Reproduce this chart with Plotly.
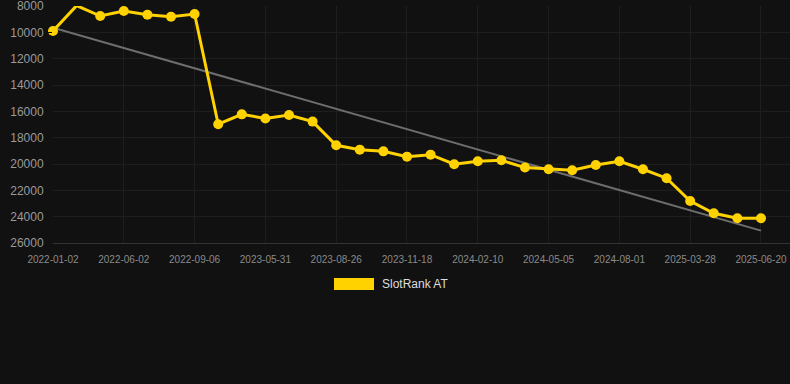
import plotly.graph_objects as go

dates = ["2022-01-02", "2022-02-14", "2022-04-10", "2022-06-02", "2022-07-05", "2022-08-03",
         "2022-09-06", "2022-12-10", "2023-03-15", "2023-05-31", "2023-06-28", "2023-07-27",
         "2023-08-26", "2023-09-23", "2023-10-21", "2023-11-18", "2023-12-16", "2024-01-13",
         "2024-02-10", "2024-03-09", "2024-04-06", "2024-05-05", "2024-06-02", "2024-06-30",
         "2024-08-01", "2024-11-15", "2025-01-20", "2025-03-28", "2025-04-25", "2025-05-23",
         "2025-06-20"]
ranks = [9900, 7970, 8760, 8380, 8660, 8810,
         8610, 16980, 16230, 16540, 16280, 16780,
         18580, 18910, 19040, 19440, 19290, 20020,
         19790, 19720, 20270, 20400, 20480, 20070,
         19790, 20400, 21080, 22810, 23740, 24120,
         24120]
trend_dates = [dates[0], dates[-1]]
trend_values = [9650, 25060]
tick_labels = dates[::3]
y_ticks = [8000, 10000, 12000, 14000, 16000, 18000, 20000, 22000, 24000, 26000]
series_name = "SlotRank AT"

YELLOW = "#FFD200"
BG = "#111111"

fig = go.Figure()
fig.add_trace(go.Scatter(x=trend_dates, y=trend_values, mode="lines",
                         line=dict(color="#6e6e6e", width=2), showlegend=False,
                         hoverinfo="skip", cliponaxis=False))
fig.add_trace(go.Scatter(x=dates, y=ranks, mode="lines+markers", name=series_name,
                         line=dict(color=YELLOW, width=3),
                         marker=dict(color=YELLOW, size=10),
                         showlegend=False, cliponaxis=False))

fig.update_layout(
    width=790, height=384,
    paper_bgcolor=BG, plot_bgcolor=BG,
    margin=dict(l=53, r=0, t=6, b=141),
    font=dict(family="Arial, Liberation Sans, sans-serif", color="#999999"),
    xaxis=dict(type="category", categoryorder="array", categoryarray=dates,
               range=[0, 31.23], tickvals=tick_labels, ticktext=tick_labels,
               showgrid=True, gridcolor="#1e1e1e", gridwidth=1,
               showline=True, linecolor="#333333", linewidth=1,
               ticks="outside", ticklen=7, tickcolor=BG,
               tickfont=dict(size=10, color="#8a8a8a"), tickangle=0, zeroline=False,
               ticklabeloverflow="allow"),
    yaxis=dict(range=[26000, 8000], tickvals=y_ticks, ticktext=[str(v) for v in y_ticks],
               showgrid=True, gridcolor="#1e1e1e", gridwidth=1,
               showline=False, zeroline=False,
               ticks="outside", ticklen=6, tickcolor=BG,
               tickfont=dict(size=12, color="#9a9a9a"),
               ticklabeloverflow="allow"),
    shapes=[dict(type="rect", xref="paper", yref="paper",
                 x0=(334 - 53) / 737, x1=(374 - 53) / 737,
                 y0=(243 - 290) / 237, y1=(243 - 278) / 237,
                 fillcolor=YELLOW, line=dict(width=0))],
    annotations=[dict(text=series_name, xref="paper", yref="paper",
                      x=(380 - 53) / 737, y=(243 - 284) / 237,
                      xanchor="left", yanchor="middle", showarrow=False,
                      font=dict(size=12, color="#dddddd"))],
)

fig.write_html("out.html", config={"displayModeBar": False})
with open("out.html", encoding="utf-8") as f:
    html = f.read()
html = html.replace("<body>", '<body style="margin:0;padding:0;background:#111111;">', 1)
with open("out.html", "w", encoding="utf-8") as f:
    f.write(html)
